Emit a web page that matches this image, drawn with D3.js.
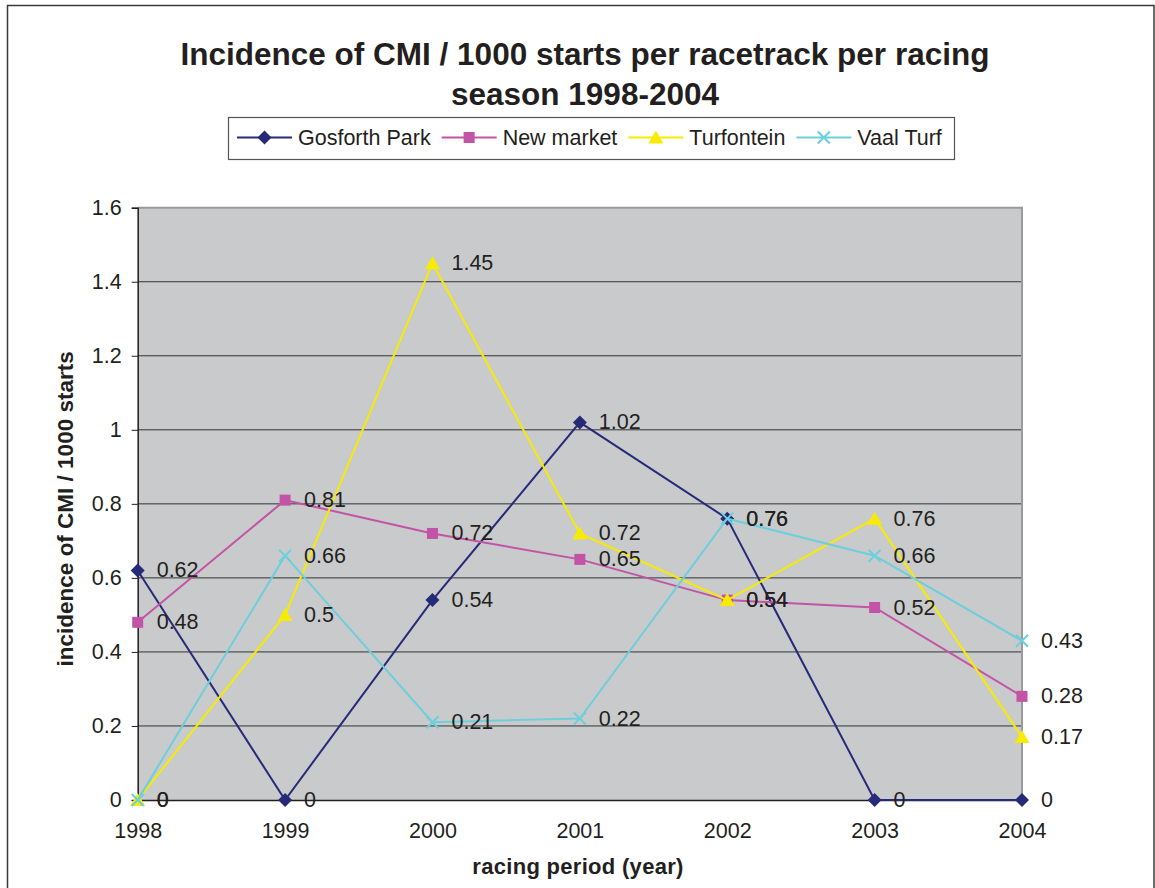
<!DOCTYPE html>
<html><head><meta charset="utf-8">
<script src="https://cdn.jsdelivr.net/npm/d3@7"></script>
<style>
html,body{margin:0;padding:0;background:#fff;}
svg{display:block;font-family:"Liberation Sans",Arial,sans-serif;}
</style></head>
<body><svg id="c" width="1155" height="888"></svg>
<script>
const years = ["1998","1999","2000","2001","2002","2003","2004"];
const gosforthPark = [0.62, 0, 0.54, 1.02, 0.76, 0, 0];
const newMarket = [0.48, 0.81, 0.72, 0.65, 0.54, 0.52, 0.28];
const turfontein = [0, 0.5, 1.45, 0.72, 0.54, 0.76, 0.17];
const vaalTurf = [0, 0.66, 0.21, 0.22, 0.76, 0.66, 0.43];
const yTicks = [0, 0.2, 0.4, 0.6, 0.8, 1, 1.2, 1.4, 1.6];
const seriesNames = ["Gosforth Park", "New market", "Turfontein", "Vaal Turf"];

const series = [
  {name: seriesNames[0], values: gosforthPark, color: "#262a78", marker: "diamond"},
  {name: seriesNames[1], values: newMarket, color: "#c253a6", marker: "square"},
  {name: seriesNames[2], values: turfontein, color: "#f7ec00", marker: "triangle"},
  {name: seriesNames[3], values: vaalTurf, color: "#6dcfdc", marker: "x"}
];

const svg = d3.select("#c");
const textColor = "#231f20";
const FS = 21.5;
const L = 137.7, R = 1022, T = 207.7, B = 800;

// outer border
svg.append("rect").attr("x", 7.5).attr("y", 5.5).attr("width", 1146.5).attr("height", 900)
  .attr("fill", "none").attr("stroke", "#3a3a3a").attr("stroke-width", 1.5);

// title
const title = svg.append("text").attr("text-anchor", "middle").attr("font-weight", "bold")
  .attr("font-size", 31.5).attr("fill", textColor);
title.append("tspan").attr("x", 585).attr("y", 64.5).text("Incidence of CMI / 1000 starts per racetrack per racing");
title.append("tspan").attr("x", 585).attr("y", 105).text("season 1998-2004");

const x = d3.scalePoint().domain(years).range([L, R]);
const y = d3.scaleLinear().domain([0, 1.6]).range([B, T]);

// plot area
svg.append("rect").attr("x", L).attr("y", T).attr("width", R - L).attr("height", B - T)
  .attr("fill", "#c9cacc");
// gridlines
svg.append("g").selectAll("line").data(yTicks.filter(d => d > 0 && d < 1.6)).join("line")
  .attr("x1", L).attr("x2", R).attr("y1", d => y(d)).attr("y2", d => y(d))
  .attr("stroke", "#333").attr("stroke-width", 1);
// border top/right gray
svg.append("path").attr("d", `M${L},${T}H${R}V${B}`).attr("fill", "none")
  .attr("stroke", "#9a9a9a").attr("stroke-width", 2);

// y axis
const yAxis = d3.axisLeft(y).tickValues(yTicks).tickSize(6).tickPadding(10)
  .tickFormat(d => d3.format("")(+d.toFixed(1)));
const gy = svg.append("g").attr("transform", `translate(${L},0)`).call(yAxis);
gy.select(".domain").attr("stroke", textColor).attr("stroke-width", 1.5);
gy.selectAll(".tick line").attr("stroke", textColor);
gy.selectAll(".tick text").attr("font-size", FS).attr("fill", textColor)
  .attr("font-family", "Liberation Sans, Arial, sans-serif");

// x axis
const xAxis = d3.axisBottom(x).tickSize(0).tickPadding(23);
const gx = svg.append("g").attr("transform", `translate(0,${B})`).call(xAxis);
gx.select(".domain").attr("stroke", textColor).attr("stroke-width", 1.5);
gx.selectAll(".tick text").attr("font-size", FS).attr("fill", textColor)
  .attr("font-family", "Liberation Sans, Arial, sans-serif");

// axis titles
svg.append("text").attr("x", 578).attr("y", 874).attr("text-anchor", "middle")
  .attr("font-weight", "bold").attr("font-size", 22).attr("letter-spacing", 0.3)
  .attr("fill", textColor).text("racing period (year)");
svg.append("text").attr("transform", `translate(73,${(T + B) / 2 + 5}) rotate(-90)`)
  .attr("text-anchor", "middle").attr("font-weight", "bold").attr("font-size", 22.5)
  .attr("fill", textColor).text("incidence of CMI / 1000 starts");

function drawMarker(g, type, color, cx, cy) {
  if (type === "diamond") {
    g.append("path").attr("d", `M${cx},${cy - 7}L${cx + 7},${cy}L${cx},${cy + 7}L${cx - 7},${cy}Z`)
      .attr("fill", color);
  } else if (type === "square") {
    g.append("rect").attr("x", cx - 5.5).attr("y", cy - 5.5).attr("width", 11).attr("height", 11)
      .attr("fill", color);
  } else if (type === "triangle") {
    g.append("path").attr("d", `M${cx},${cy - 7}L${cx + 7.5},${cy + 6}L${cx - 7.5},${cy + 6}Z`)
      .attr("fill", color);
  } else {
    g.append("path").attr("d", `M${cx - 6},${cy - 6}L${cx + 6},${cy + 6}M${cx + 6},${cy - 6}L${cx - 6},${cy + 6}`)
      .attr("stroke", color).attr("stroke-width", 2).attr("fill", "none");
  }
}

const line = d3.line().x((d, i) => x(years[i])).y(d => y(d));
series.forEach(s => {
  const g = svg.append("g");
  g.append("path").attr("d", line(s.values)).attr("fill", "none")
    .attr("stroke", s.color).attr("stroke-width", 2);
  s.values.forEach((v, i) => drawMarker(g, s.marker, s.color, x(years[i]), y(v)));
});
// data labels
series.forEach(s => {
  svg.append("g").selectAll("text").data(s.values).join("text")
    .attr("x", (d, i) => x(years[i]) + 19).attr("y", d => y(d) + 7)
    .attr("font-size", FS).attr("fill", textColor).text(d => d);
});

// legend
const lg = svg.append("g");
lg.append("rect").attr("x", 228.5).attr("y", 117.5).attr("width", 726).attr("height", 42)
  .attr("fill", "#fff").attr("stroke", "#555").attr("stroke-width", 1.2);
let lx = 237;
series.forEach(s => {
  const ly = 137.5;
  lg.append("line").attr("x1", lx).attr("x2", lx + 55).attr("y1", ly).attr("y2", ly)
    .attr("stroke", s.color).attr("stroke-width", 2);
  drawMarker(lg, s.marker, s.color, lx + 27.5, ly);
  const t = lg.append("text").attr("x", lx + 61).attr("y", ly + 7.5).attr("font-size", FS)
    .attr("fill", textColor).text(s.name);
  lx += 61 + t.node().getComputedTextLength() + 11;
});
</script></body></html>
